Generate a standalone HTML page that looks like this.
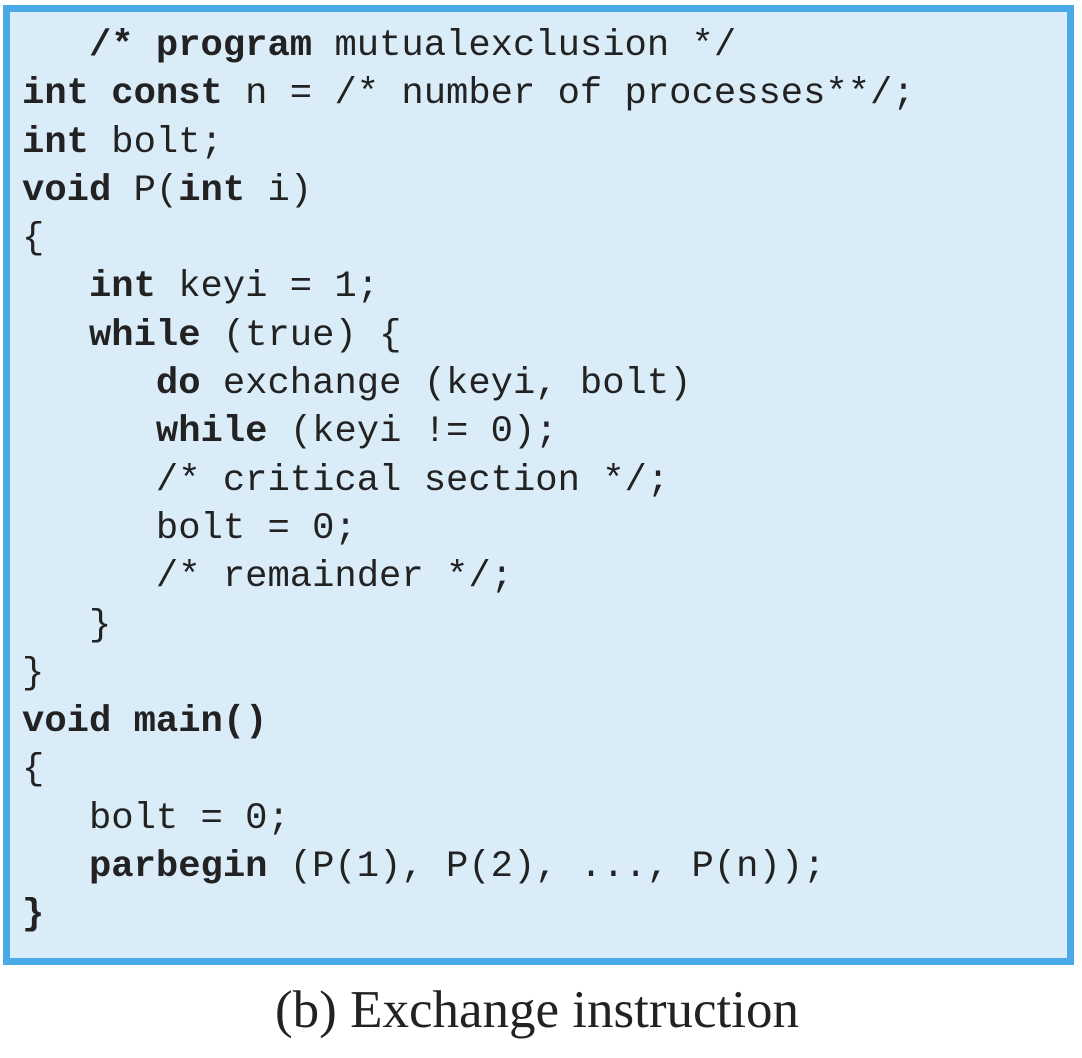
<!DOCTYPE html>
<html><head><style>
body{margin:0;width:1082px;height:1058px;background:#fff;position:relative;overflow:hidden}
.box{position:absolute;left:3px;top:5px;width:1057px;height:946px;border:7px solid #4aaae6;background:#dbecf9}
pre{position:absolute;left:22px;top:22px;margin:0;font-family:"Liberation Mono",monospace;font-size:37.2px;line-height:48.3px;color:#222}
b{font-weight:bold}
.cap{position:absolute;left:0;width:1074px;top:980px;text-align:center;font-family:"Liberation Serif",serif;font-size:53px;color:#222}
</style></head><body>
<div class="box"></div>
<pre>   <b>/* program</b> mutualexclusion */
<b>int const</b> n = /* number of processes**/;
<b>int</b> bolt;
<b>void</b> P(<b>int</b> i)
{
   <b>int</b> keyi = 1;
   <b>while</b> (true) {
      <b>do</b> exchange (keyi, bolt)
      <b>while</b> (keyi != 0);
      /* critical section */;
      bolt = 0;
      /* remainder */;
   }
}
<b>void main()</b>
{
   bolt = 0;
   <b>parbegin</b> (P(1), P(2), ..., P(n));
<b>}</b></pre>
<div class="cap">(b) Exchange instruction</div>
</body></html>
